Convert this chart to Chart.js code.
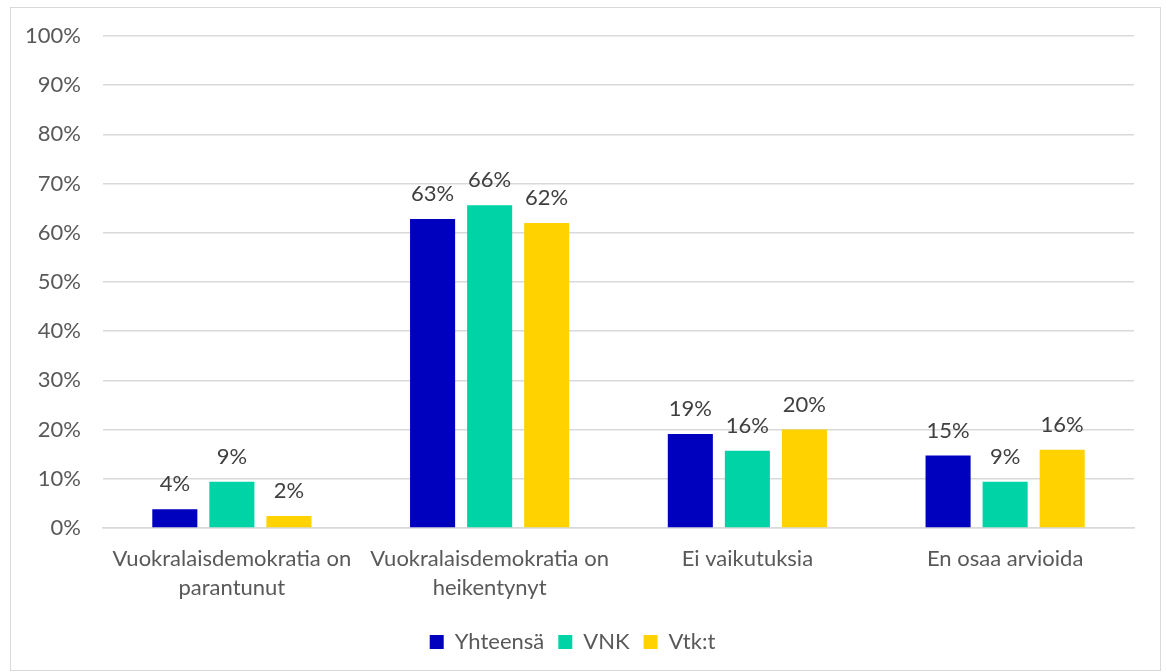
<!DOCTYPE html>
<html lang="fi">
<head>
<meta charset="UTF-8">
<title>Vuokralaisdemokratia</title>
<script src="https://cdn.jsdelivr.net/npm/chart.js@4.4.2/dist/chart.umd.min.js"></script>
<style>
    body { margin: 0; background: #fff; }
    .frame {
        position: absolute; left: 10px; top: 7px;
        width: 1149px; height: 662px;
        border: 1px solid #d9d9d9; background: #fff;
    }
</style>
</head>
<body>
<div class="frame"><canvas id="chart" width="1149" height="662"></canvas></div>
<script>
// categories and series (percent)
const categories = [
    ['Vuokralaisdemokratia on', 'parantunut'],
    ['Vuokralaisdemokratia on', 'heikentynyt'],
    'Ei vaikutuksia',
    'En osaa arvioida'
];
const yhteensa = [3.8, 62.8, 19.1, 14.7];
const vnk = [9.4, 65.6, 15.7, 9.4];
const vtkt = [2.4, 62.0, 20.0, 15.9];
const seriesNames = ['Yhteensä', 'VNK', 'Vtk:t'];
const seriesColors = ['#0000bf', '#00d4a6', '#ffd200'];

const textColor = '#595959';
const fontFamily = "Lato, 'Open Sans', sans-serif";

// draws the percent labels above each bar
const barLabels = {
    id: 'barLabels',
    afterDatasetsDraw(chart) {
        const ctx = chart.ctx;
        ctx.save();
        ctx.fillStyle = '#404040';
        ctx.font = '22px ' + fontFamily;
        ctx.textAlign = 'center';
        ctx.textBaseline = 'bottom';
        chart.data.datasets.forEach((ds, i) => {
            chart.getDatasetMeta(i).data.forEach((bar, j) => {
                ctx.fillText(Math.round(ds.data[j]) + '%', bar.x, bar.y - 14);
            });
        });
        ctx.restore();
    }
};

const allSeries = [yhteensa, vnk, vtkt];

new Chart(document.getElementById('chart'), {
    type: 'bar',
    data: {
        labels: categories,
        datasets: allSeries.map((d, i) => ({
            label: seriesNames[i],
            data: d,
            backgroundColor: seriesColors[i],
            categoryPercentage: 0.664,
            barPercentage: 0.79
        }))
    },
    options: {
        responsive: false,
        animation: false,
        layout: { padding: { top: 28, right: 26, left: 0, bottom: 7 } },
        scales: {
            y: {
                min: 0, max: 100,
                border: { display: false },
                grid: { color: '#d9d9d9', lineWidth: 1.5, drawTicks: false },
                ticks: {
                    stepSize: 10,
                    padding: 22,
                    color: textColor,
                    font: { size: 22, family: fontFamily },
                    callback: v => v + '%'
                },
                afterFit: s => {
                    s.width = 92;
                    s.paddingTop = 0;
                    s.paddingBottom = 0;
                }
            },
            x: {
                border: { color: '#d9d9d9', width: 1.5 },
                grid: { display: false },
                ticks: {
                    color: textColor,
                    padding: 8,
                    font: { size: 22, family: fontFamily, lineHeight: 1.32 },
                    maxRotation: 0
                },
                afterFit: s => { s.height += 7; }
            }
        },
        plugins: {
            legend: {
                position: 'bottom',
                labels: {
                    color: textColor,
                    font: { size: 22, family: fontFamily },
                    boxWidth: 14,
                    boxHeight: 14,
                    padding: 14
                }
            },
            tooltip: { enabled: false }
        }
    },
    plugins: [barLabels]
});
</script>
</body>
</html>
